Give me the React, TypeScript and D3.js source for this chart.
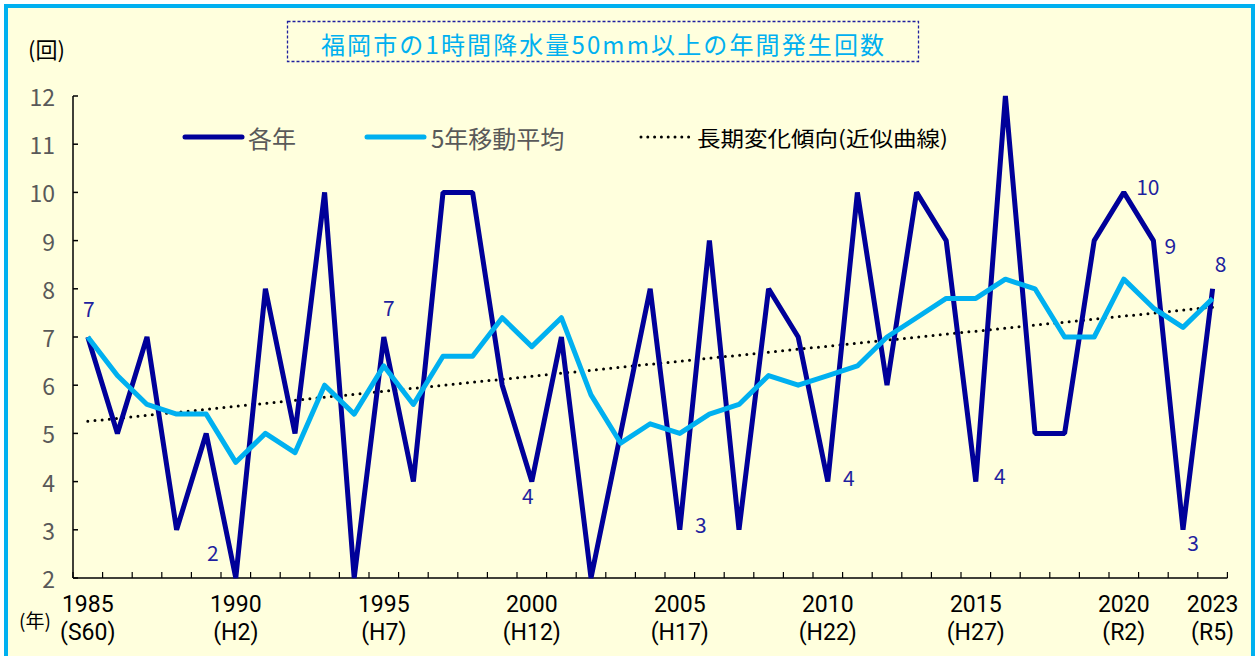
import React from "react";
import * as d3 from "d3";

const years: number[] = [
  1985, 1986, 1987, 1988, 1989, 1990, 1991, 1992, 1993, 1994,
  1995, 1996, 1997, 1998, 1999, 2000, 2001, 2002, 2003, 2004,
  2005, 2006, 2007, 2008, 2009, 2010, 2011, 2012, 2013, 2014,
  2015, 2016, 2017, 2018, 2019, 2020, 2021, 2022, 2023,
];
const annualCounts: number[] = [
  7, 5, 7, 3, 5, 2, 8, 5, 10, 2,
  7, 4, 10, 10, 6, 4, 7, 2, 5, 8,
  3, 9, 3, 8, 7, 4, 10, 6, 10, 9,
  4, 12, 5, 5, 9, 10, 9, 3, 8,
];
const movingAverage: number[] = [
  7.0, 6.2, 5.6, 5.4, 5.4, 4.4, 5.0, 4.6, 6.0, 5.4,
  6.4, 5.6, 6.6, 6.6, 7.4, 6.8, 7.4, 5.8, 4.8, 5.2,
  5.0, 5.4, 5.6, 6.2, 6.0, 6.2, 6.4, 7.0, 7.4, 7.8,
  7.8, 8.2, 8.0, 7.0, 7.0, 8.2, 7.6, 7.2, 7.8,
];
const trendYears: number[] = [1985, 2023];
const trendValues: number[] = [5.25, 7.62];
const yTicks: number[] = [2, 3, 4, 5, 6, 7, 8, 9, 10, 11, 12];
const xLabelYears: number[] = [1985, 1990, 1995, 2000, 2005, 2010, 2015, 2020, 2023];
const xLabelEras: string[] = ["(S60)", "(H2)", "(H7)", "(H12)", "(H17)", "(H22)", "(H27)", "(R2)", "(R5)"];
const labelYears: number[] = [1985, 1990, 1995, 2000, 2005, 2010, 2015, 2020, 2021, 2022, 2023];
const labelOffsets: [number, number][] = [
  [1, -29], [-23, -26], [5, -30], [-4, 13], [21, -6], [21, -5],
  [24, -7], [24, -6], [17, 4], [10, 12], [8, -26],
];
const title = "福岡市の1時間降水量50mm以上の年間発生回数";
const legendNames: string[] = ["各年", "5年移動平均", "長期変化傾向(近似曲線)"];

const DARK = "#000099";
const CYAN = "#00B0F0";
const GRAY = "#595959";
const LABEL = "#1F1F9F";
const FONT = "'Noto Sans CJK JP', 'Noto Sans', sans-serif";
const XFONT = "Roboto, 'Liberation Sans', sans-serif";

export default function App() {
  const left = 73;
  const right = 1227.4;
  const top = 96;
  const bottom = 578;

  const x = d3.scaleBand<number>().domain(years).range([left, right]).padding(0);
  const bw = x.bandwidth();
  const cx = (yr: number) => (x(yr) as number) + bw / 2;
  const y = d3.scaleLinear().domain([2, 12]).range([bottom, top]);

  const line = d3
    .line<[number, number]>()
    .x((d) => cx(d[0]))
    .y((d) => y(d[1]));

  const annualPath = line(years.map((yr, i) => [yr, annualCounts[i]]) as [number, number][]) || "";
  const maPath = line(years.map((yr, i) => [yr, movingAverage[i]]) as [number, number][]) || "";
  const trendPath = line(trendYears.map((yr, i) => [yr, trendValues[i]]) as [number, number][]) || "";

  const xTickPositions = years.map((yr) => x(yr) as number).concat([right]);

  return (
    <svg
      width={1259}
      height={656}
      style={{ position: "absolute", left: 0, top: 0, fontFamily: FONT }}
    >
      <rect x={0} y={0} width={1259} height={656} fill="#ffffff" />
      <rect x={6} y={6} width={1247} height={670} fill="#FFFFDD" stroke={CYAN} strokeWidth={4} />

      {/* title */}
      <rect x={287.5} y={21.5} width={631} height={40} fill="none" stroke="#1F1F9F" strokeWidth={1.3} strokeDasharray="3,2" />
      <text x={321} y={43} textLength={563} lengthAdjust="spacing" dominantBaseline="central" fill={CYAN} fontSize={24}>
        {title}
      </text>

      {/* y unit */}
      <text x={28} y={48} dominantBaseline="central" fill="#000" fontSize={22}>(回)</text>

      {/* axes */}
      <line x1={left} x2={left} y1={top} y2={bottom} stroke="#000" strokeWidth={1.5} />
      <line x1={left} x2={right} y1={bottom} y2={bottom} stroke="#000" strokeWidth={1.5} />
      {yTicks.map((t) => (
        <g key={"yt" + t}>
          <line x1={left} x2={left + 5} y1={y(t)} y2={y(t)} stroke="#000" strokeWidth={1.5} />
          <text x={55} y={y(t)} textAnchor="end" dominantBaseline="central" fill={GRAY} fontSize={23}>
            {t}
          </text>
        </g>
      ))}
      {xTickPositions.map((p, i) => (
        <line key={"xt" + i} x1={p} x2={p} y1={bottom} y2={bottom - 6} stroke="#000" strokeWidth={1.2} />
      ))}
      {xLabelYears.map((yr, i) => (
        <g key={"xl" + yr} style={{ fontFamily: XFONT }}>
          <text x={cx(yr)} y={604} textAnchor="middle" dominantBaseline="central" fill="#000" fontSize={23}>
            {yr}
          </text>
          <text x={cx(yr)} y={632} textAnchor="middle" dominantBaseline="central" fill="#000" fontSize={23}>
            {xLabelEras[i]}
          </text>
        </g>
      ))}
      <text x={35} y={619} textAnchor="middle" dominantBaseline="central" fill="#000" fontSize={19}>(年)</text>

      {/* series */}
      <path d={trendPath} fill="none" stroke="#000" strokeWidth={3} strokeLinecap="round" strokeDasharray="0,7.2" />
      <path d={annualPath} fill="none" stroke={DARK} strokeWidth={5} strokeLinejoin="bevel" />
      <path d={maPath} fill="none" stroke={CYAN} strokeWidth={5} strokeLinejoin="round" />

      {/* data labels */}
      {labelYears.map((yr, i) => {
        const v = annualCounts[years.indexOf(yr)];
        return (
          <text
            key={"dl" + yr}
            x={cx(yr) + labelOffsets[i][0]}
            y={y(v) + labelOffsets[i][1]}
            textAnchor="middle"
            dominantBaseline="central"
            fill={LABEL}
            fontSize={21}
          >
            {v}
          </text>
        );
      })}

      {/* legend */}
      <line x1={185} x2={242} y1={137} y2={137} stroke={DARK} strokeWidth={5} strokeLinecap="round" />
      <text x={248} y={137} dominantBaseline="central" fill={GRAY} fontSize={24}>{legendNames[0]}</text>
      <line x1={367} x2={424} y1={137} y2={137} stroke={CYAN} strokeWidth={5} strokeLinecap="round" />
      <text x={431} y={137} dominantBaseline="central" fill={GRAY} fontSize={24}>{legendNames[1]}</text>
      <line x1={641} x2={695} y1={137} y2={137} stroke="#000" strokeWidth={3} strokeLinecap="round" strokeDasharray="0,6.8" />
      <text x={697} y={137} textLength={251} lengthAdjust="spacingAndGlyphs" dominantBaseline="central" fill="#000" fontSize={21}>{legendNames[2]}</text>
    </svg>
  );
}
